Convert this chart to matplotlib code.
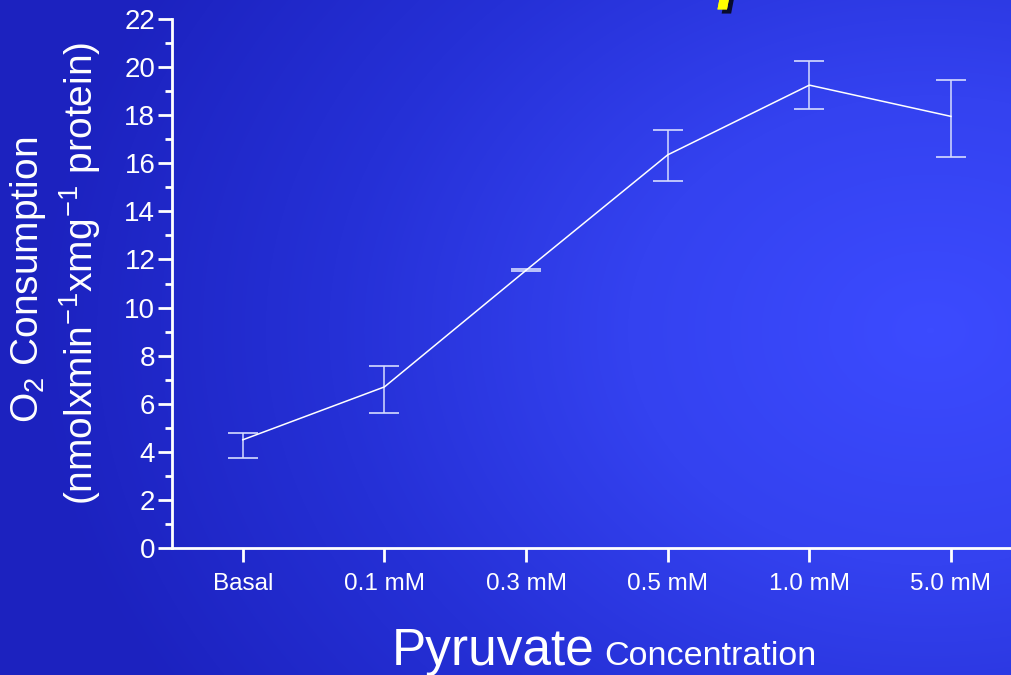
import numpy as np
import matplotlib.pyplot as plt
import matplotlib.patheffects as pe
from matplotlib.colors import LinearSegmentedColormap

plt.rcParams['font.family'] = ['Liberation Sans', 'DejaVu Sans']
plt.rcParams['mathtext.fontset'] = 'custom'
plt.rcParams['mathtext.rm'] = 'Liberation Sans'

# pyruvate dose response
labels = ['Basal', '0.1 mM', '0.3 mM', '0.5 mM', '1.0 mM', '5.0 mM']
o2_mean = [4.50, 6.70, 11.55, 16.35, 19.25, 17.95]
err_low = [0.75, 1.10, 0.05, 1.10, 1.00, 1.70]
err_high = [0.30, 0.85, 0.05, 1.05, 1.00, 1.50]

W, H = 1011, 675
fig = plt.figure(figsize=(W / 100, H / 100), dpi=100)

# radial blue background, brighter towards the right
bg = fig.add_axes([0, 0, 1, 1], zorder=-10)
yy, xx = np.mgrid[0:H, 0:W]
r = np.hypot((xx - 930) / 900.0, (yy - 330) / 700.0)
r = np.clip(r, 0, 1)
cmap = LinearSegmentedColormap.from_list('bgblue', ['#3c4bff', '#3442f0', '#2530d6', '#1c22bf'])
bg.imshow(r, cmap=cmap, aspect='auto', extent=[0, W, H, 0], interpolation='bilinear')
bg.set_xlim(0, W)
bg.set_ylim(H, 0)
bg.axis('off')

ax = fig.add_axes([172 / W, 1 - 548 / H, (W - 172) / W, (548 - 19) / H])
ax.patch.set_alpha(0)
x = np.arange(len(labels))
ax.plot(x, o2_mean, color='white', lw=1.1, zorder=3)
ax.errorbar(x, o2_mean, yerr=[err_low, err_high], fmt='none', ecolor='#d6dcff',
            elinewidth=1.1, capsize=11, capthick=1.2, zorder=2)

ax.set_xlim(-0.5, (W - 243) / 141.6)
ax.set_ylim(0, 22)
ax.set_yticks(range(0, 23, 2))
ax.set_yticks(range(1, 22, 2), minor=True)
ax.set_xticks(x)
ax.set_xticklabels(labels)

for s in ['top', 'right']:
    ax.spines[s].set_visible(False)
for s in ['left', 'bottom']:
    ax.spines[s].set_color('white')
    ax.spines[s].set_linewidth(2)

ax.tick_params(axis='y', which='major', colors='white', length=10, width=2, labelsize=20, pad=2)
ax.tick_params(axis='y', which='minor', colors='white', length=5, width=2)
ax.tick_params(axis='x', which='major', colors='white', length=10, width=2, labelsize=17.5, pad=8)

# y axis title, two lines
fig.text(28 / W, 1 - 280 / H, r'O$_2$ Consumption', color='white', fontsize=28,
         rotation=90, ha='center', va='center')
fig.text(80 / W, 1 - 273 / H,
         r'(nmolxmin$^{\mathregular{\!-\!1}}$xmg$^{\mathregular{\!-\!1}}$ protein)',
         color='white', fontsize=28, rotation=90, ha='center', va='center')

# x axis title
fig.text(392 / W, 1 - 665 / H, 'Pyruvate', color='white', fontsize=37,
         ha='left', va='baseline')
fig.text(604 / W, 1 - 665 / H, 'Concentration', color='white', fontsize=24.5,
         ha='left', va='baseline')

# descender of the slide title peeking in at the top
fig.text(719 / W, 1 + 5 / H, 'p', color='#ffff00', fontsize=50, fontweight='bold',
         style='italic', ha='left', va='baseline',
         path_effects=[pe.withSimplePatchShadow(offset=(3, -3), shadow_rgbFace='black', alpha=0.8),
                       pe.Normal()])

fig.savefig('out.png', dpi=100)
